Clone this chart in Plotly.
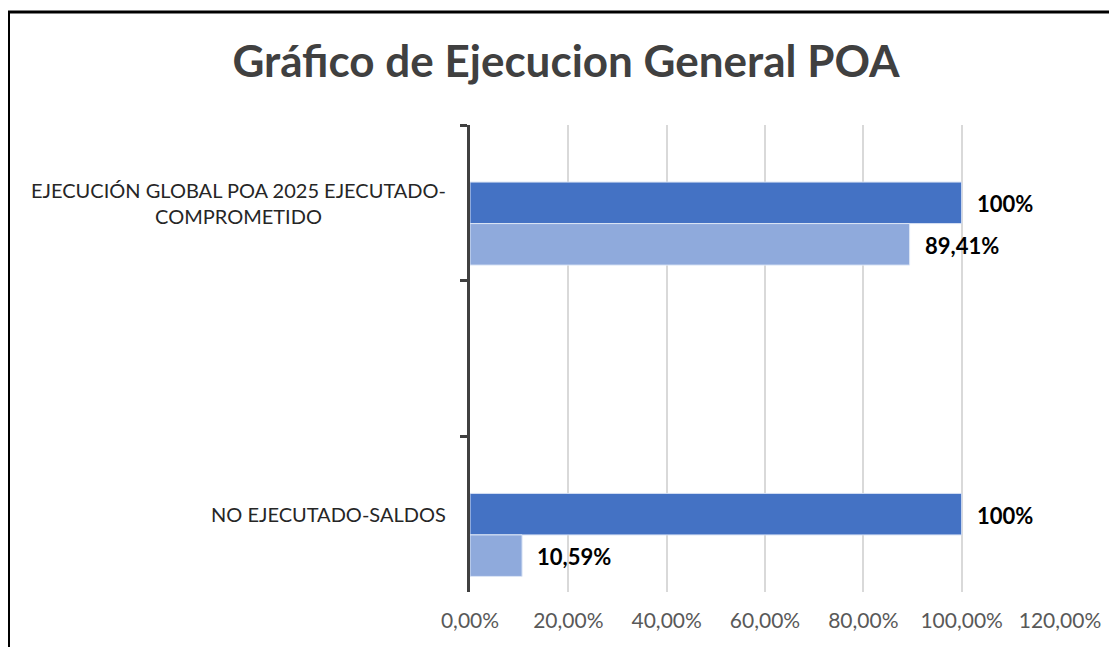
import plotly.graph_objects as go

# ---- data ----
categories = ["EJECUCIÓN GLOBAL POA 2025 EJECUTADO-<br>COMPROMETIDO", " ", "NO EJECUTADO-SALDOS"]
series_empty = [None, None, None]
series_total = [1.00, None, 1.00]
series_exec = [0.8941, None, 0.1059]
labels_total = ["100%", None, "100%"]
labels_exec = ["89,41%", None, "10,59%"]
x_ticks = [0, 0.2, 0.4, 0.6, 0.8, 1.0, 1.2]
title_text = "Gráfico de Ejecucion General POA"

# page body has an 8px margin; figure coordinates = reference pixels - 8
OFF = 8
W, H = 1117 - OFF, 647 - OFF
ML, MR, MT, MB = 470 - OFF, 1117 - 1060, 125 - OFF, 647 - 592
PW, PH = W - ML - MR, H - MT - MB

FONT = "Lato"
DARK = "#4472C4"
LIGHT = "#8FAADC"

fig = go.Figure()
fig.add_trace(go.Bar(y=categories, x=series_empty, orientation="h", marker=dict(color="#A5A5A5"), name="-"))
fig.add_trace(go.Bar(y=categories, x=series_total, orientation="h",
                     marker=dict(color=DARK, line=dict(color="#D6E0F3", width=1)), name="Total"))
fig.add_trace(go.Bar(y=categories, x=series_exec, orientation="h",
                     marker=dict(color=LIGHT, line=dict(color="#DCE6F6", width=1)), name="Ejecutado"))

band = PH / len(categories)
bargap = 0.2
barw = band * (1 - bargap) / 3

annotations = []
for cat, v, t in zip(categories, series_total, labels_total):
    if v is not None:
        annotations.append(dict(x=v, y=cat, xref="x", yref="y", text=f"<b>{t}</b>", showarrow=False,
                                xanchor="left", yanchor="middle", xshift=13, yshift=-1,
                                font=dict(family=FONT, size=22, color="#000000")))
for cat, v, t in zip(categories, series_exec, labels_exec):
    if v is not None:
        annotations.append(dict(x=v, y=cat, xref="x", yref="y", text=f"<b>{t}</b>", showarrow=False,
                                xanchor="left", yanchor="middle", xshift=13, yshift=-barw - 1,
                                font=dict(family=FONT, size=22, color="#000000")))
for cat in categories:
    if cat.strip():
        annotations.append(dict(x=0, y=cat, xref="paper", yref="y", text=cat, showarrow=False,
                                xanchor="right", yanchor="middle", align="center", xshift=-22,
                                font=dict(family=FONT, size=20, color="#262626")))


def px_x(px):
    return (px - OFF - ML) / PW


def px_y(py):
    return (H - MB - (py - OFF)) / PH


shapes = [
    dict(type="line", xref="paper", yref="paper", x0=px_x(8.5), x1=px_x(8.5), y0=px_y(H + 20), y1=px_y(12),
         line=dict(color="#000000", width=3)),
    dict(type="line", xref="paper", yref="paper", x0=px_x(8), x1=px_x(W + 30), y0=px_y(12), y1=px_y(12),
         line=dict(color="#000000", width=3)),
]

fig.update_layout(
    width=W, height=H,
    margin=dict(l=ML, r=MR, t=MT, b=MB),
    paper_bgcolor="white", plot_bgcolor="white",
    barmode="group", bargap=bargap, bargroupgap=0,
    showlegend=False,
    separators=",.",
    title=dict(text=f"<b>{title_text}</b>", x=(566 - OFF) / W, xanchor="center", y=1 - (62 - OFF) / H,
               yanchor="middle", font=dict(family=FONT, size=44, color="#404040")),
    annotations=annotations,
    shapes=shapes,
    xaxis=dict(range=[0, 1.2], tickvals=x_ticks, tickformat=".2%", showgrid=True, gridcolor="#D9D9D9",
               gridwidth=2, zeroline=False, showline=False, ticks="", ticklabelstandoff=14,
               tickfont=dict(family=FONT, size=21, color="#595959"), fixedrange=True),
    yaxis=dict(type="category", categoryorder="array", categoryarray=categories, autorange="reversed",
               showticklabels=False, showgrid=False, zeroline=False, showline=True, linecolor="#404040",
               linewidth=3, ticks="outside", tickson="boundaries", ticklen=7, tickwidth=3,
               tickcolor="#404040", fixedrange=True),
)

fig.write_html("out.html")
